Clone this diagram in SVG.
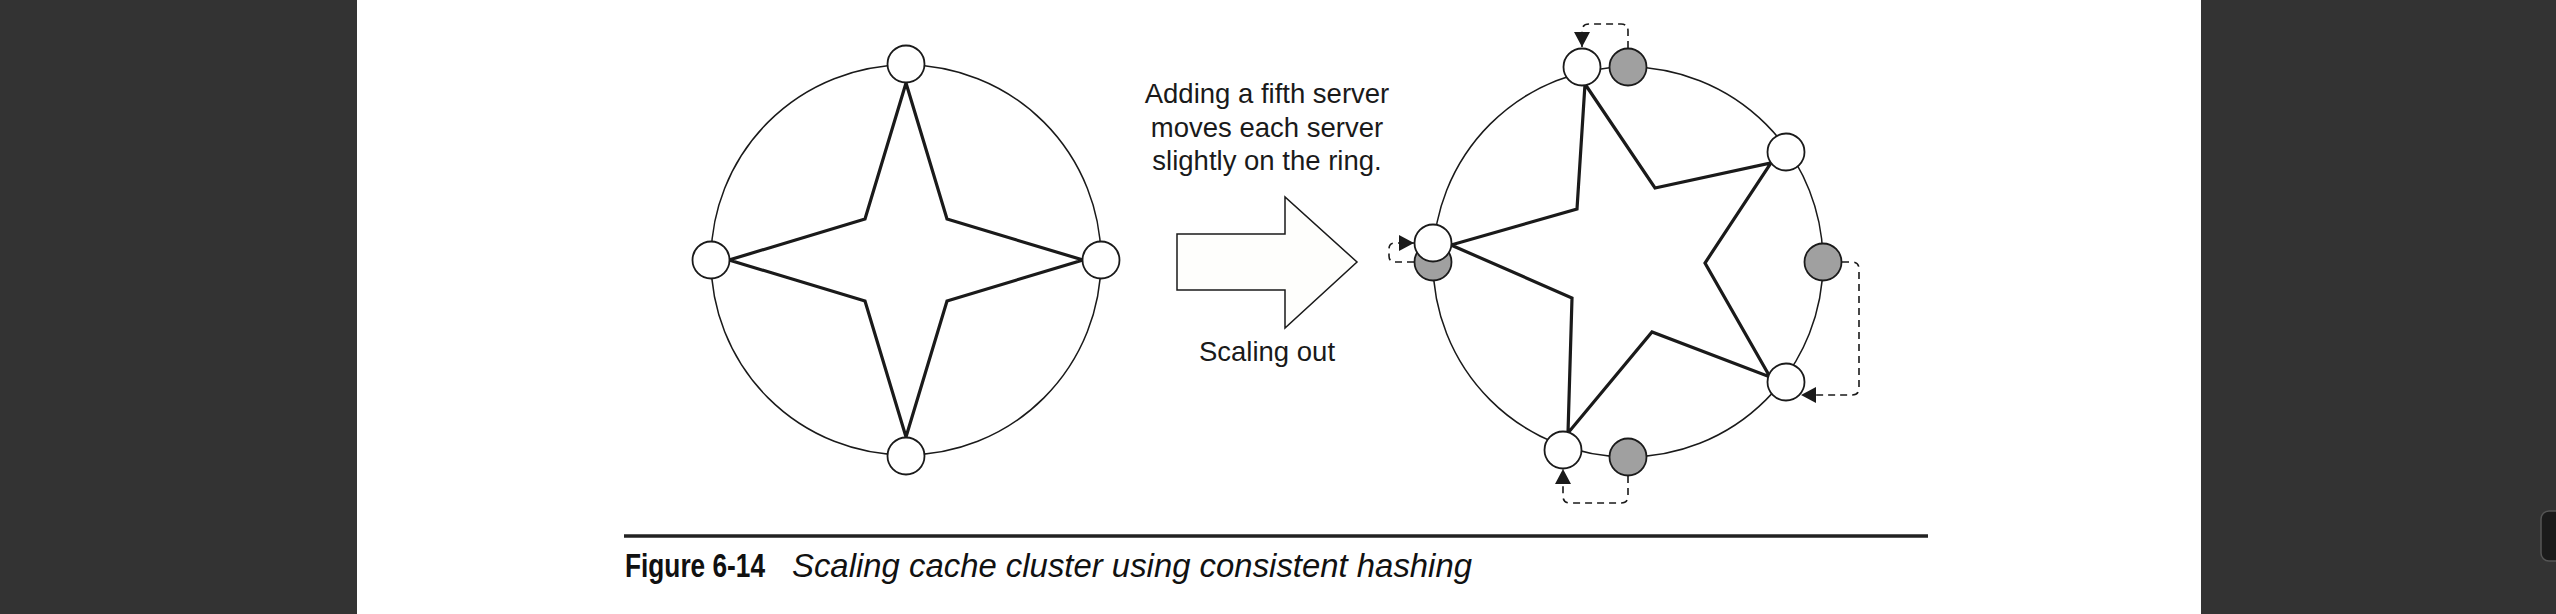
<svg xmlns="http://www.w3.org/2000/svg" width="2556" height="614" viewBox="0 0 2556 614">
<defs>
<style>
.ring{fill:none;stroke:#1a1a1a;stroke-width:1.5}
.star{fill:#ffffff;stroke:#1a1a1a;stroke-width:3.2;stroke-linejoin:miter}
.wn{fill:#ffffff;stroke:#1a1a1a;stroke-width:1.8}
.gn{fill:#a0a0a0;stroke:#1a1a1a;stroke-width:1.8}
.dash{fill:none;stroke:#1a1a1a;stroke-width:1.6;stroke-dasharray:7 5}
.lbl{font-family:"Liberation Sans",Arial,sans-serif;font-size:27.5px;fill:#1a1a1a;text-anchor:middle}
</style>
<marker id="ah" markerUnits="userSpaceOnUse" markerWidth="16" markerHeight="16" refX="15" refY="8" orient="auto">
<path d="M0,0 L15,8 L0,16 Z" fill="#1a1a1a"/>
</marker>
</defs>
<rect x="0" y="0" width="2556" height="614" fill="#333333"/>
<rect x="357" y="0" width="1844" height="614" fill="#ffffff"/>
<rect x="2541" y="511" width="22" height="50" rx="8" fill="#1b1b1b" stroke="#555555" stroke-width="1.5"/>

<g id="left-ring">
<circle class="ring" cx="906" cy="260" r="195"/>
<polygon class="star" points="906,83 947,219 1083,260 947,301 906,437 865,301 729,260 865,219"/>
</g>
<g id="left-node-top"><circle class="wn" cx="906" cy="64" r="18.5"/></g>
<g id="left-node-right"><circle class="wn" cx="1101" cy="260" r="18.5"/></g>
<g id="left-node-bottom"><circle class="wn" cx="906" cy="456" r="18.5"/></g>
<g id="left-node-left"><circle class="wn" cx="711" cy="260" r="18.5"/></g>

<g id="scale-arrow">
<polygon points="1177,234 1285,234 1285,197 1357,262 1285,328 1285,290 1177,290" fill="#fefefc" stroke="#1a1a1a" stroke-width="1.5"/>
<text class="lbl" x="1267" y="103">Adding a fifth server</text>
<text class="lbl" x="1267" y="137">moves each server</text>
<text class="lbl" x="1267" y="170">slightly on the ring.</text>
<text class="lbl" x="1267" y="361">Scaling out</text>
</g>

<g id="right-ring">
<circle class="ring" cx="1628" cy="262" r="195"/>
<polygon class="star" points="1585,84 1655,188 1771,163 1705,263 1770,377 1652,332 1568,433 1572,298 1451,245 1577,209"/>
</g>

<g id="connectors">
<path class="dash" d="M1628,48 V31 Q1628,24 1621,24 H1589 Q1582,24 1582,31 V47" marker-end="url(#ah)"/>
<path class="dash" d="M1842,262 H1852 Q1859,262 1859,269 V388 Q1859,395 1852,395 H1801" marker-end="url(#ah)"/>
<path class="dash" d="M1628,476 V496 Q1628,503 1621,503 H1570 Q1563,503 1563,496 V469" marker-end="url(#ah)"/>
<path class="dash" d="M1414,262 H1395 Q1389,262 1389,256 V249 Q1389,243 1395,243 H1414" marker-end="url(#ah)"/>
</g>

<g id="old-node-top"><circle class="gn" cx="1628" cy="67" r="18.5"/></g>
<g id="old-node-right"><circle class="gn" cx="1823" cy="262" r="18.5"/></g>
<g id="old-node-bottom"><circle class="gn" cx="1628" cy="457" r="18.5"/></g>
<g id="old-node-left"><circle class="gn" cx="1433" cy="262" r="18.5"/></g>

<g id="new-node-top"><circle class="wn" cx="1582" cy="67" r="18.5"/></g>
<g id="new-node-upper-right"><circle class="wn" cx="1786" cy="152" r="18.5"/></g>
<g id="new-node-lower-right"><circle class="wn" cx="1786" cy="382" r="18.5"/></g>
<g id="new-node-bottom"><circle class="wn" cx="1563" cy="450" r="18.5"/></g>
<g id="new-node-left"><circle class="wn" cx="1433" cy="243" r="18.5"/></g>

<g id="caption">
<line x1="624" y1="536" x2="1928" y2="536" stroke="#222222" stroke-width="3.3"/>
<text x="625" y="577" font-family="'Liberation Sans',Arial,sans-serif" font-weight="bold" font-size="34" fill="#111111" textLength="140" lengthAdjust="spacingAndGlyphs">Figure 6-14</text>
<text x="792" y="577" font-family="'Liberation Sans',Arial,sans-serif" font-style="italic" font-size="33" fill="#111111" textLength="680" lengthAdjust="spacingAndGlyphs">Scaling cache cluster using consistent hashing</text>
</g>
</svg>
